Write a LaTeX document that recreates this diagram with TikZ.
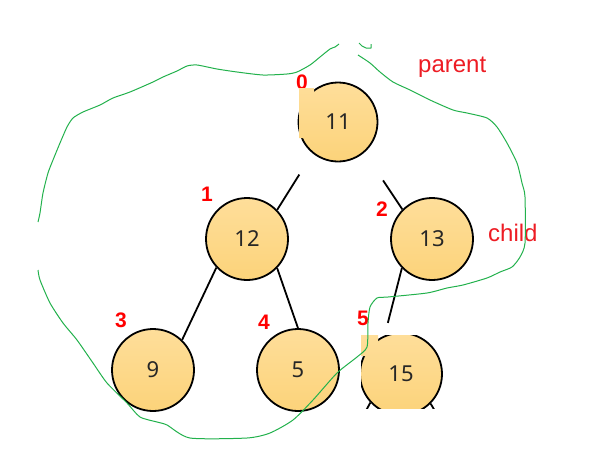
\documentclass[tikz,border=0pt]{standalone}
\usepackage{fontspec}
\setmainfont{Liberation Sans}
\newfontfamily\numfont{Noto Sans}
\usepackage{tikz}
\usetikzlibrary{calc}
\definecolor{heapTop}{RGB}{254,222,154}
\definecolor{heapBot}{RGB}{252,211,122}
\definecolor{idxRed}{RGB}{255,0,0}
\definecolor{noteRed}{RGB}{237,28,36}
\definecolor{paintGreen}{RGB}{34,177,76}
\tikzset{
  heapnode/.style={
    circle, draw=black, line width=1.8pt,
    top color=heapTop, bottom color=heapBot,
    minimum size=82pt, inner sep=0pt,
    font=\numfont\fontsize{22}{26}\selectfont, text=black!85
  },
  heapcorner/.style={top color=heapTop, bottom color=heapBot},
  idxlabel/.style={
    text=idxRed, inner sep=0pt,
    font=\bfseries\fontsize{21}{25}\selectfont
  },
  note/.style={
    text=noteRed, inner sep=0pt, anchor=base west,
    font=\fontsize{24}{28}\selectfont
  },
  treeedge/.style={line width=1.8pt, black},
  sketch/.style={draw=paintGreen, line width=1pt, line join=round},
}

\begin{document}
\begin{tikzpicture}[x=1pt, y=-1pt]
  \useasboundingbox (0,0) rectangle (601,455);

  % heap nodes
  \node[heapnode, minimum size=79pt] (n11) at (338,122) {11};
  \node[idxlabel] (i0) at (302,82) {0};
  % pasted corner, shaded over the circle's height
  \shade[heapcorner] (299,88) rectangle (314,138) (338,82.5) rectangle (338,161.5);
  \node[heapnode] (n12) at (247,239) {12};
  \node[heapnode] (n13) at (432,239) {13};
  \node[heapnode] (n9)  at (153,370) {9};
  \node[heapnode] (n5)  at (298,370) {5};
  \begin{scope}
    \clip (361,335) rectangle (460,408);
    \node[heapnode] (n15) at (401,374) {15};
    \shade[heapcorner] (361,335) rectangle (378,356) (401,333) rectangle (401,415);
    \coordinate (c15l) at (350,440);
    \coordinate (c15r) at (452,440);
    \draw[treeedge] (n15.223) -- (c15l);
    \draw[treeedge] (n15.-45) -- (c15r);
  \end{scope}

  % edges
  \draw[treeedge, shorten <=25pt]   (n11.231) -- (n12.44);
  \draw[treeedge, shorten <=33.5pt] (n11.-49) -- (n13.135);
  \draw[treeedge] (n12.223) -- (n9.46);
  \draw[treeedge] (n12.-44) -- (n5.north);
  \draw[treeedge, shorten >=13pt] (n13.224) -- (n15.113);

  % array indices
  \node[idxlabel] (i1) at (207,194) {1};
  \node[idxlabel] (i2) at (382,209) {2};
  \node[idxlabel] (i3) at (121,320) {3};
  \node[idxlabel] (i4) at (264,322) {4};
  \node[idxlabel] (i5) at (363,318) {5};

  \node[note] (parent) at (418,72)  {parent};
  \node[note] (child)  at (488,241) {child};

  % hand drawn outline
  \draw[sketch] plot[smooth, tension=0.4] coordinates {
    (339,44) (335,47) (330,49) (320,57) (310,65) (297,72) (287,74) (263,75)
    (237,72) (217,69) (197,65) (187,66) (177,71) (163,77) (153,82) (130,92)
    (113,98) (100,105) (83,112) (73,118) (67,127) (60,143) (53,160) (48,173)
    (43,193) (40,213) (38,222)};
  \draw[sketch] plot[smooth, tension=0.4] coordinates {
    (38,270) (40,280) (50,303) (63,323) (77,340) (93,363) (107,383) (127,403)
    (140,417) (157,422) (167,425) (190,438) (247,438) (270,433) (293,420)
    (313,400) (337,373) (357,357) (367,347) (368,323) (370,307) (377,298)
    (388,297) (427,293) (447,288) (463,285) (487,278) (500,272) (512,267)
    (520,257) (525,243) (525,197) (522,183) (517,163) (507,143) (497,127)
    (487,118) (467,113) (453,110) (430,100) (410,90) (393,82) (380,72)
    (370,63) (358,55)};
  \draw[sketch] (359,43) -- (362,46) -- (366,48) -- (371,48) -- (371,44);
\end{tikzpicture}
\end{document}
